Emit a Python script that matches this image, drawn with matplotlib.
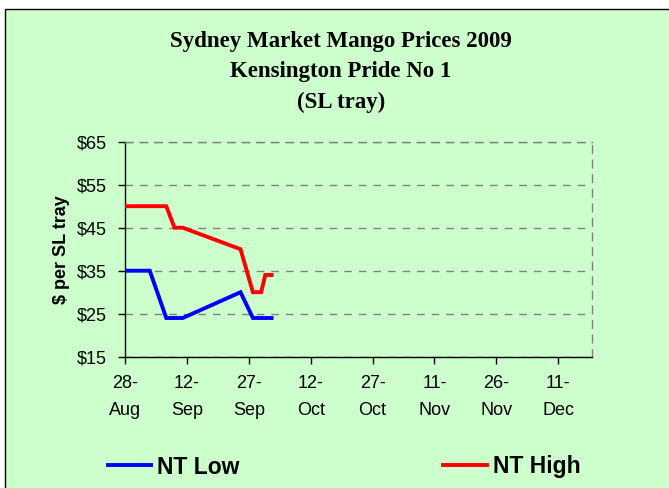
import matplotlib
matplotlib.use("Agg")
import matplotlib.pyplot as plt
import matplotlib.dates as mdates
from matplotlib.lines import Line2D
from matplotlib.patches import Rectangle
import datetime as dt

# ---- data ----
low_dates = ["2009-08-28", "2009-09-03", "2009-09-07", "2009-09-11",
             "2009-09-25", "2009-09-28", "2009-10-03"]
low_values = [35, 35, 24, 24, 30, 24, 24]

high_dates = ["2009-08-28", "2009-09-07", "2009-09-09", "2009-09-11",
              "2009-09-25", "2009-09-28", "2009-09-30", "2009-10-01", "2009-10-03"]
high_values = [50, 50, 45, 45, 40, 30, 30, 34, 34]

tick_dates = ["2009-08-28", "2009-09-12", "2009-09-27", "2009-10-12",
              "2009-10-27", "2009-11-11", "2009-11-26", "2009-12-11"]
tick_labels = ["28-\nAug", "12-\nSep", "27-\nSep", "12-\nOct",
               "27-\nOct", "11-\nNov", "26-\nNov", "11-\nDec"]
y_ticks = [15, 25, 35, 45, 55, 65]
y_tick_labels = ["$15", "$25", "$35", "$45", "$55", "$65"]

series_names = ["NT Low", "NT High"]
title_lines = ["Sydney Market Mango Prices 2009", "Kensington Pride No 1", "(SL tray)"]
y_label = "$ per SL tray"


def to_num(ds):
    return [mdates.date2num(dt.datetime.strptime(d, "%Y-%m-%d")) for d in ds]


GREEN = "#CCFFCC"
W, H = 669, 488
fig = plt.figure(figsize=(W / 100, H / 100), dpi=100, facecolor="white")

# outer chart area
fig.patches.append(Rectangle((5 / W, -0.05), 1.1, 1 - 9 / H + 0.05,
                             transform=fig.transFigure, facecolor=GREEN,
                             edgecolor="black", linewidth=1.0, zorder=-10))

ax = fig.add_axes([125 / W, 1 - 356.7 / H, (592 - 125) / W, (356.7 - 141.7) / H])
ax.set_zorder(1)
ax.set_facecolor(GREEN)

ax.plot(to_num(low_dates), low_values, color="#0000FF", lw=2.8,
        solid_joinstyle="miter", solid_capstyle="butt", zorder=3)
ax.plot(to_num(high_dates), high_values, color="#FF0000", lw=2.8,
        solid_joinstyle="miter", solid_capstyle="butt", zorder=3)

x0 = to_num(["2009-08-28"])[0]
ax.set_xlim(x0, x0 + 113.2)
ax.set_ylim(15, 65)

ax.set_yticks(y_ticks)
ax.set_yticklabels(y_tick_labels, fontsize=13, family="Liberation Sans")
ax.set_xticks(to_num(tick_dates))
ax.set_xticklabels(tick_labels, fontsize=13, family="Liberation Sans", linespacing=1.75)
ax.tick_params(axis="both", direction="out", length=5, width=1, color="black")
ax.tick_params(axis="x", pad=8)
ax.tick_params(axis="y", pad=8)

ax.yaxis.grid(True, color="#808080", linestyle=(0, (5.5, 5)), linewidth=1.0)
ax.set_axisbelow(True)

for s in ["left", "bottom"]:
    ax.spines[s].set_color("black")
    ax.spines[s].set_linewidth(1.0)
for s in ["top", "right"]:
    ax.spines[s].set_color("#808080")
    ax.spines[s].set_linestyle((0, (5.5, 5)))
    ax.spines[s].set_linewidth(1.0)

ax.set_ylabel(y_label, fontsize=13, fontweight="bold", family="Liberation Sans", labelpad=5)

fig.text(341 / W, 1 - 72 / H, "\n".join(title_lines), ha="center", va="center",
         fontsize=16.5, fontweight="bold", family="Liberation Serif", linespacing=1.6)

handles = [Line2D([], [], color="#0000FF", lw=2.8), Line2D([], [], color="#FF0000", lw=2.8)]
leg = fig.legend(handles, series_names, ncol=2, frameon=False, loc="center",
                 bbox_to_anchor=(344 / W, 1 - 467 / H), columnspacing=8.9,
                 handlelength=1.9, handletextpad=0.25,
                 prop={"family": "Liberation Sans", "weight": "bold", "size": 16.5})

fig.savefig("out.png", dpi=100, facecolor="white")
